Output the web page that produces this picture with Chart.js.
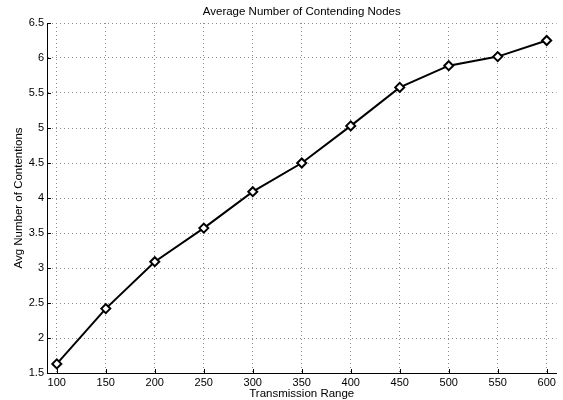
<!DOCTYPE html>
<html><head><meta charset="utf-8">
<script src="https://cdn.jsdelivr.net/npm/chart.js@4.4.0/dist/chart.umd.min.js"></script>
<style>html,body{margin:0;padding:0;background:#fff}canvas{display:block}</style>
</head><body>
<canvas id="c" width="563" height="400"></canvas>
<script>
const titleText = 'Average Number of Contending Nodes';
const xLabel = 'Transmission Range';
const yLabel = 'Avg Number of Contentions';
const transmissionRange = [100, 150, 200, 250, 300, 350, 400, 450, 500, 550, 600];
const avgContentions = [1.63, 2.42, 3.09, 3.57, 4.09, 4.50, 5.03, 5.58, 5.89, 6.02, 6.25];
const xTicks = [100, 150, 200, 250, 300, 350, 400, 450, 500, 550, 600];
const yTicks = [1.5, 2, 2.5, 3, 3.5, 4, 4.5, 5, 5.5, 6, 6.5];
const xLimits = [90, 610];
const yLimits = [1.5, 6.5];

const FONT = '"Liberation Sans", Arial, Helvetica, sans-serif';

const extras = {
  id: 'extras',
  afterDraw(chart) {
    const {ctx, chartArea: ca, scales} = chart;
    ctx.save();
    // inward tick marks
    ctx.strokeStyle = '#000';
    ctx.lineWidth = 1;
    ctx.beginPath();
    scales.x.ticks.forEach(t => {
      const px = Math.round(scales.x.getPixelForValue(t.value)) + 0.5;
      ctx.moveTo(px, ca.bottom);
      ctx.lineTo(px, ca.bottom - 4);
    });
    scales.y.ticks.forEach(t => {
      const py = Math.round(scales.y.getPixelForValue(t.value)) + 0.5;
      ctx.moveTo(ca.left, py);
      ctx.lineTo(ca.left + 4, py);
    });
    ctx.stroke();
    // title
    ctx.fillStyle = '#000';
    ctx.font = '11.5px ' + FONT;
    ctx.textAlign = 'center';
    ctx.textBaseline = 'middle';
    ctx.fillText(titleText, (ca.left + ca.right) / 2, 12);
    ctx.restore();
  }
};

new Chart(document.getElementById('c'), {
  type: 'line',
  data: {
    datasets: [{
      data: transmissionRange.map((x, i) => ({x, y: avgContentions[i]})),
      borderColor: '#000',
      borderWidth: 2,
      pointStyle: 'rectRot',
      pointRadius: 4.5,
      pointBorderWidth: 2,
      pointBorderColor: '#000',
      pointBackgroundColor: '#fff',
      tension: 0,
      fill: false
    }]
  },
  options: {
    responsive: false,
    animation: false,
    devicePixelRatio: 1,
    layout: {padding: {top: 23, right: 4, left: 0, bottom: 0}},
    plugins: {legend: {display: false}, tooltip: {enabled: false}, title: {display: false}},
    scales: {
      x: {
        type: 'linear',
        min: xLimits[0], max: xLimits[1],
        afterBuildTicks: s => { s.ticks = xTicks.map(v => ({value: v})); },
        afterFit: s => { s.height = 27; },
        ticks: {font: {family: FONT, size: 11}, color: '#000', padding: 3, maxRotation: 0, autoSkip: false},
        grid: {color: '#8c8c8c', lineWidth: 1, drawTicks: false},
        border: {display: true, color: '#000', width: 1, dash: [1, 3]},
        title: {display: true, text: xLabel, color: '#000', font: {family: FONT, size: 11.5, lineHeight: 1}, padding: {top: 0, bottom: 0.25}}
      },
      y: {
        min: yLimits[0], max: yLimits[1],
        afterBuildTicks: s => { s.ticks = yTicks.map(v => ({value: v})); },
        afterFit: s => { s.width = 47; },
        ticks: {font: {family: FONT, size: 11}, color: '#000', padding: 3, callback: v => String(v)},
        grid: {color: '#8c8c8c', lineWidth: 1, drawTicks: false},
        border: {display: true, color: '#000', width: 1, dash: [1, 3]},
        title: {display: true, text: yLabel, color: '#000', font: {family: FONT, size: 11.5, lineHeight: 1}, padding: {top: 13, bottom: 0}}
      }
    }
  },
  plugins: [extras]
});
</script>
</body></html>
